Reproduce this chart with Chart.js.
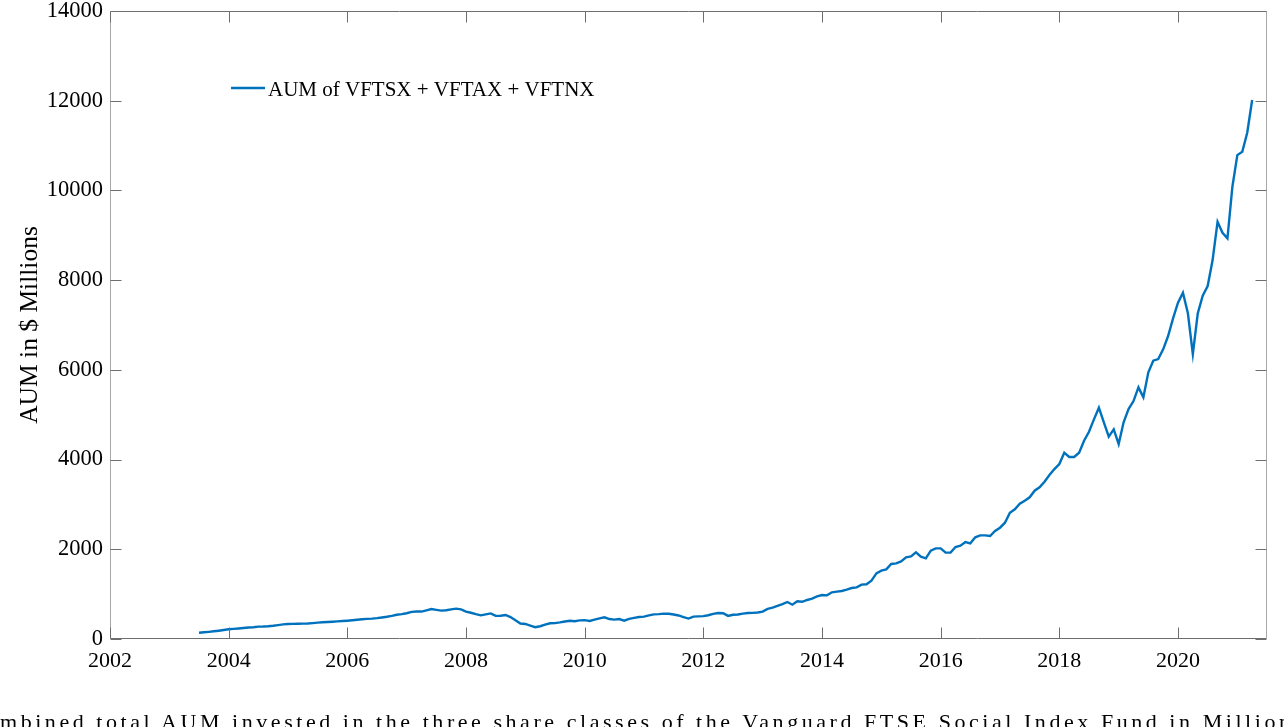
<!DOCTYPE html>
<html><head><meta charset="utf-8">
<script src="https://cdn.jsdelivr.net/npm/chart.js@4.4.1/dist/chart.umd.min.js"></script>
<style>
html,body{margin:0;padding:0;background:#fff;width:1284px;height:727px;overflow:hidden;}
#wrap{position:relative;width:1284px;height:727px;overflow:hidden;}
canvas{position:absolute;left:0;top:0;}
#caption{position:absolute;top:711px;left:0;white-space:nowrap;font-family:'Liberation Serif',serif;font-size:22px;line-height:22px;letter-spacing:3.55px;color:#000;}
</style></head><body>
<div id="wrap"><canvas id="c" width="1284" height="727"></canvas><div id="caption"><span id="capHead"></span><span id="capTail"></span></div></div>
<script>
// ---- data ----
const seriesLabel = 'AUM of VFTSX + VFTAX + VFTNX';
const firstMonth = 2003.5;        // first observation (mid 2003), monthly thereafter
const aumMillions = [
  140, 150, 160, 172, 185, 200,
  216, 225, 235, 245, 255, 262,
  275, 278, 285, 295, 310, 325,
  335, 338, 340, 342, 345, 355,
  365, 372, 378, 385, 392, 400,
  408, 418, 430, 440, 448, 455,
  465, 480, 495, 515, 540, 555,
  575, 605, 612, 612, 640, 668,
  650, 632, 640, 660, 676, 660,
  612, 585, 555, 528, 548, 570,
  515, 518, 535, 490, 420, 345,
  335, 300, 262, 285, 320, 350,
  355, 370, 390, 408, 395, 415,
  420, 402, 430, 460, 483, 445,
  432, 446, 410, 450, 470, 490,
  500, 525, 550, 555, 565, 562,
  545, 525, 490, 455, 500, 505,
  510, 530, 560, 580, 575, 515,
  540, 545, 565, 580, 582, 590,
  610, 670, 700, 740, 780, 825,
  765, 840, 830, 870, 900, 950,
  980, 973, 1041, 1055, 1070, 1100,
  1137, 1152, 1211, 1219, 1300, 1464,
  1523, 1553, 1672, 1687, 1731, 1821,
  1843, 1932, 1836, 1799, 1969, 2021,
  2021, 1925, 1925, 2051, 2080, 2162,
  2133, 2267, 2311, 2311, 2296, 2407,
  2481, 2593, 2815, 2891, 3016, 3083,
  3158, 3306, 3381, 3506, 3656, 3789,
  3901, 4153, 4057, 4057, 4153, 4420,
  4621, 4897, 5156, 4830, 4510, 4674,
  4347, 4830, 5127, 5305, 5610, 5388,
  5945, 6204, 6241, 6457, 6754, 7148,
  7497, 7720, 7260, 6353, 7260, 7652,
  7868, 8448, 9302, 9057, 8932, 10082,
  10788, 10862, 11286, 12015
];
const xTicks = [2002, 2004, 2006, 2008, 2010, 2012, 2014, 2016, 2018, 2020];
const yTicks = [0, 2000, 4000, 6000, 8000, 10000, 12000, 14000];
const xRange = [2002, 2021.5];
const yRange = [0, 14000];
const yAxisTitle = 'AUM in $ Millions';
const captionText = 'Combined total AUM invested in the three share classes of the Vanguard FTSE Social Index Fund in Millions';

// ---- caption (cut off at the bottom edge, as in the source) ----
document.getElementById('capHead').textContent = captionText.slice(0, 2);
document.getElementById('capTail').textContent = captionText.slice(2);
const capHead = document.getElementById('capHead');
document.getElementById('caption').style.left = (-capHead.getBoundingClientRect().width) + 'px';

const FONT = "'Liberation Serif', 'Times New Roman', serif";
const LINE = '#0072BD';

const framePlugin = {
  id: 'frame',
  afterDraw(chart) {
    const {ctx, chartArea: a, scales: {x, y}} = chart;
    const L = Math.round(a.left) + 0.5, R = Math.round(a.right) - 0.5;
    const T = Math.round(a.top) + 0.5, B = Math.round(a.bottom) - 0.5;
    const tl = 11;
    ctx.save();
    ctx.lineWidth = 1;
    ctx.strokeStyle = '#6e6e6e';
    ctx.beginPath(); ctx.moveTo(L, T); ctx.lineTo(R, T); ctx.moveTo(L, B); ctx.lineTo(R, B); ctx.stroke();
    ctx.strokeStyle = '#a8a8a8';
    ctx.beginPath(); ctx.moveTo(L, T); ctx.lineTo(L, B); ctx.moveTo(R, T); ctx.lineTo(R, B); ctx.stroke();
    ctx.strokeStyle = '#6e6e6e';
    ctx.beginPath();
    x.ticks.forEach(t => {
      const px = Math.round(x.getPixelForValue(t.value)) + 0.5;
      ctx.moveTo(px, B); ctx.lineTo(px, B - tl);
      ctx.moveTo(px, T); ctx.lineTo(px, T + tl);
    });
    y.ticks.forEach(t => {
      const py = Math.round(y.getPixelForValue(t.value)) + 0.5;
      ctx.moveTo(L, py); ctx.lineTo(L + tl, py);
      ctx.moveTo(R, py); ctx.lineTo(R - tl, py);
    });
    ctx.stroke();
    // legend
    const ds = chart.data.datasets[0];
    ctx.strokeStyle = ds.borderColor;
    ctx.lineWidth = 2.3;
    ctx.beginPath(); ctx.moveTo(231, 88); ctx.lineTo(265, 88); ctx.stroke();
    ctx.fillStyle = '#000';
    ctx.font = '21px ' + FONT;
    ctx.textBaseline = 'alphabetic';
    ctx.textAlign = 'left';
    ctx.fillText(ds.label, 268, 96);
    ctx.restore();
  }
};

new Chart(document.getElementById('c'), {
  type: 'line',
  data: {
    datasets: [{
      label: seriesLabel,
      data: aumMillions.map((v, i) => ({x: firstMonth + i / 12, y: v})),
      borderColor: LINE,
      borderWidth: 2.4,
      pointRadius: 0,
      tension: 0,
      fill: false
    }]
  },
  options: {
    responsive: false,
    animation: false,
    devicePixelRatio: 1,
    layout: {padding: {left: 0, right: 17, top: 11, bottom: 0}},
    plugins: {legend: {display: false}, tooltip: {enabled: false}},
    scales: {
      x: {
        type: 'linear',
        min: xRange[0], max: xRange[1],
        afterBuildTicks: s => { s.ticks = xTicks.map(v => ({value: v})); },
        afterFit: s => { s.height = 88; s.paddingLeft = 0; s.paddingRight = 0; },
        grid: {display: false, drawTicks: false},
        border: {display: false},
        ticks: {
          callback: v => String(v),
          font: {family: FONT, size: 22, lineHeight: 1},
          color: '#000', padding: 11, maxRotation: 0, autoSkip: false
        }
      },
      y: {
        type: 'linear',
        min: yRange[0], max: yRange[1],
        afterBuildTicks: s => { s.ticks = yTicks.map(v => ({value: v})); },
        afterFit: s => { s.width = 110; s.paddingTop = 0; s.paddingBottom = 0; },
        grid: {display: false, drawTicks: false},
        border: {display: false},
        title: {
          display: true, text: yAxisTitle, color: '#000',
          font: {family: FONT, size: 25.5, lineHeight: 1.2},
          padding: {top: 15, bottom: 0}
        },
        ticks: {
          callback: v => String(v),
          font: {family: FONT, size: 22.5, lineHeight: 1},
          color: '#000', padding: 7
        }
      }
    }
  },
  plugins: [framePlugin]
});
</script>
</body></html>
